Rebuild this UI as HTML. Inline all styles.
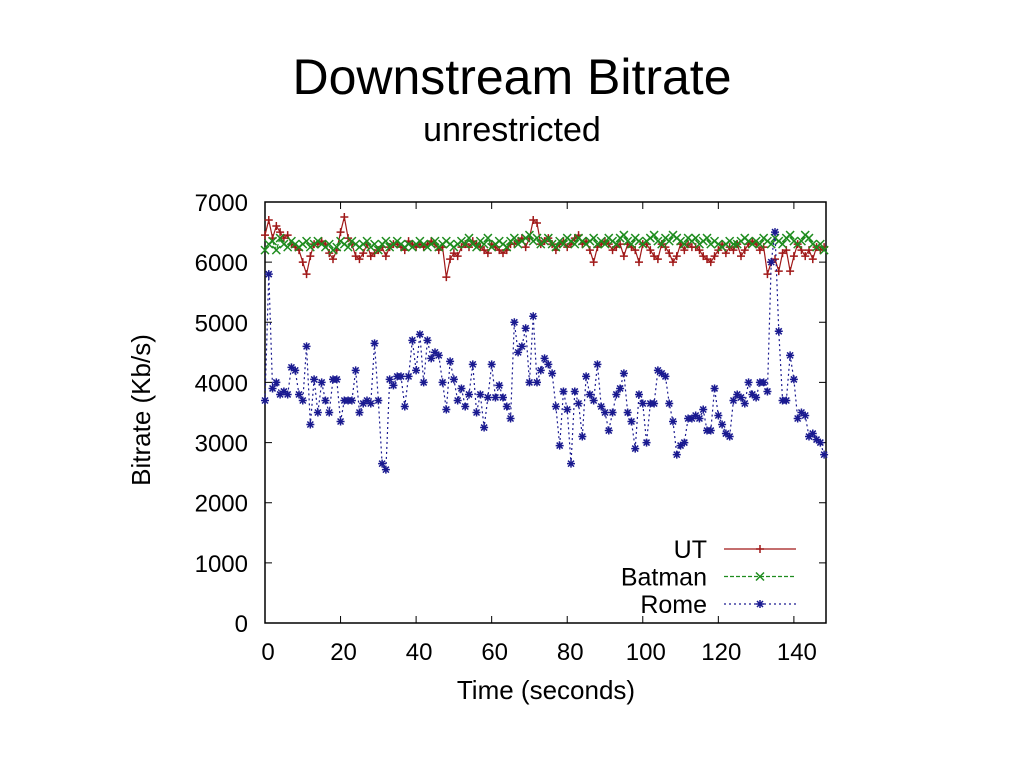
<!DOCTYPE html>
<html><head><meta charset="utf-8"><style>
body{margin:0;background:#fff;width:1024px;height:768px;overflow:hidden;font-family:"Liberation Sans",sans-serif}
#title{position:absolute;left:0;width:1024px;top:52px;line-height:1;text-align:center;font-size:50px;color:#000}
#sub{position:absolute;left:0;width:1024px;top:113px;line-height:1;text-align:center;font-size:34px;color:#000}
svg{position:absolute;left:0;top:0}
</style></head><body>
<div id="title">Downstream Bitrate</div>
<div id="sub">unrestricted</div>
<svg id="chart" width="1024" height="768"></svg>
<script>
const xTicks=[0,20,40,60,80,100,120,140];
const yTicks=[0,1000,2000,3000,4000,5000,6000,7000];
const seriesNames=["UT","Batman","Rome"];
const ut=[6450,6700,6400,6600,6500,6400,6450,6300,6250,6200,6000,5800,6100,6300,6300,6350,6300,6150,6050,6200,6500,6750,6400,6300,6100,6050,6150,6300,6100,6150,6200,6250,6100,6250,6300,6300,6250,6200,6350,6300,6250,6300,6250,6300,6350,6300,6200,6250,5750,6050,6150,6100,6250,6300,6250,6350,6300,6250,6200,6150,6300,6250,6200,6150,6200,6300,6300,6350,6400,6250,6400,6700,6650,6300,6350,6400,6300,6200,6300,6350,6250,6300,6400,6450,6300,6350,6200,6000,6250,6300,6350,6300,6200,6250,6300,6100,6300,6250,6200,6000,6300,6300,6200,6100,6050,6300,6250,6150,6000,6100,6300,6200,6300,6250,6250,6200,6100,6050,6000,6100,6200,6300,6150,6250,6200,6300,6100,6200,6300,6350,6300,6200,6250,5800,6000,6050,5850,6150,6200,5850,6100,6300,6200,6100,6200,6050,6250,6200,6250];
const batman=[6200,6300,6350,6200,6400,6300,6250,6350,6300,6250,6300,6350,6250,6300,6350,6300,6250,6300,6200,6250,6350,6300,6250,6350,6300,6250,6300,6350,6250,6300,6200,6300,6350,6250,6300,6350,6300,6250,6300,6250,6300,6350,6300,6250,6300,6350,6250,6300,6350,6300,6250,6300,6350,6300,6400,6300,6250,6350,6300,6400,6250,6300,6350,6300,6250,6350,6400,6300,6350,6400,6450,6350,6400,6300,6350,6400,6300,6250,6350,6300,6400,6350,6300,6400,6350,6300,6350,6400,6300,6350,6300,6400,6350,6300,6400,6450,6350,6300,6400,6350,6300,6350,6400,6450,6350,6300,6400,6350,6450,6400,6350,6300,6400,6350,6400,6300,6350,6400,6300,6350,6300,6250,6300,6350,6300,6300,6350,6400,6350,6300,6350,6300,6400,6350,6300,6400,6350,6300,6400,6450,6350,6300,6350,6450,6400,6300,6250,6300,6200];
const rome=[3700,5800,3900,4000,3800,3850,3800,4250,4200,3800,3700,4600,3300,4050,3500,4000,3700,3500,4050,4050,3350,3700,3700,3700,4200,3500,3650,3700,3650,4650,3700,2650,2550,4050,3950,4100,4100,3600,4100,4700,4200,4800,4000,4700,4400,4500,4450,4000,3550,4350,4050,3700,3900,3600,3800,4300,3500,3800,3250,3750,4300,3750,3950,3750,3600,3400,5000,4500,4600,4900,4000,5100,4000,4200,4400,4300,4150,3600,2950,3850,3550,2650,3850,3650,3100,4100,3800,3700,4300,3600,3500,3200,3500,3800,3900,4150,3500,3350,2900,3800,3650,3000,3650,3650,4200,4150,4100,3650,3350,2800,2950,3000,3400,3400,3450,3400,3550,3200,3200,3900,3450,3300,3150,3100,3700,3800,3750,3650,4000,3800,3750,4000,4000,3850,6000,6500,4850,3700,3700,4450,4050,3400,3500,3450,3100,3150,3050,3000,2800];

const L=265,R=826,T=202,B=623,XMAX=148.5,YMAX=7000;
const sx=v=>L+(v/XMAX)*(R-L);
const sy=v=>B-(v/YMAX)*(B-T);
const svg=document.getElementById('chart');
const NS='http://www.w3.org/2000/svg';
function mk(tag,attrs,parent){const e=document.createElementNS(NS,tag);for(const k in attrs)e.setAttribute(k,attrs[k]);(parent||svg).appendChild(e);return e;}

const frame=mk('rect',{x:L,y:T,width:R-L,height:B-T,fill:'none',stroke:'#000','stroke-width':1.5});



xTicks.forEach(t=>{
  const x=sx(t);
  const tk=mk('path',{d:`M${x},${B}v-7M${x},${T}v7`,stroke:'#000','stroke-width':1});
  
  
  const lb=mk('text',{x:x+3,y:B+37,'text-anchor':'middle','font-size':24,fill:'#000'});
  lb.textContent=t;
  
  
});
yTicks.forEach(t=>{
  const y=sy(t);
  const tk=mk('path',{d:`M${L},${y}h7M${R},${y}h-7`,stroke:'#000','stroke-width':1});
  
  
  const lb=mk('text',{x:L-17,y:y+9,'text-anchor':'end','font-size':24,fill:'#000'});
  lb.textContent=t;
  
  
});
const xt=mk('text',{x:546,y:699,'text-anchor':'middle','font-size':26,fill:'#000'});
xt.textContent='Time (seconds)';


const yt=mk('text',{x:0,y:0,'text-anchor':'middle','font-size':26,fill:'#000',transform:'translate(150,410) rotate(-90)'});
yt.textContent='Bitrate (Kb/s)';



function marker(type,x,y,c,g){
  let d;
  if(type==='plus')d=`M${x-4},${y}h8M${x},${y-4}v8`;
  else if(type==='x')d=`M${x-4},${y-4}l8,8M${x-4},${y+4}l8,-8`;
  else d=`M${x-4},${y}h8M${x},${y-4}v8M${x-3},${y-3}l6,6M${x-3},${y+3}l6,-6`;
  const m=mk('path',{d:d,stroke:c,'stroke-width':1.5,fill:'none'},g);
  
  
}
const cfg=[[ut,'#a01818','plus',''],[batman,'#1e8c1e','x','4,2'],[rome,'#1a1a90','star','2,3']];
cfg.forEach((c,i)=>{
  const [data,col,mt,dash]=c;
  const g=mk('g',{});
  
  
  const pts=data.map((v,k)=>sx(k)+','+sy(v)).join(' ');
  const ln=mk('polyline',{points:pts,fill:'none',stroke:col,'stroke-width':1.2,'stroke-dasharray':dash},g);
  
  
  data.forEach((v,k)=>marker(mt,sx(k),sy(v),col,g));
  const ly=549+i*27.5;
  const lg=mk('g',{});
  
  
  const lt=mk('text',{x:707,y:ly+9,'text-anchor':'end','font-size':25,fill:'#000'},lg);
  lt.textContent=seriesNames[i];
  const ll=mk('line',{x1:724,x2:796,y1:ly,y2:ly,stroke:col,'stroke-width':1.2,'stroke-dasharray':dash},lg);
  marker(mt,760,ly,col,lg);
});
</script>
</body></html>
